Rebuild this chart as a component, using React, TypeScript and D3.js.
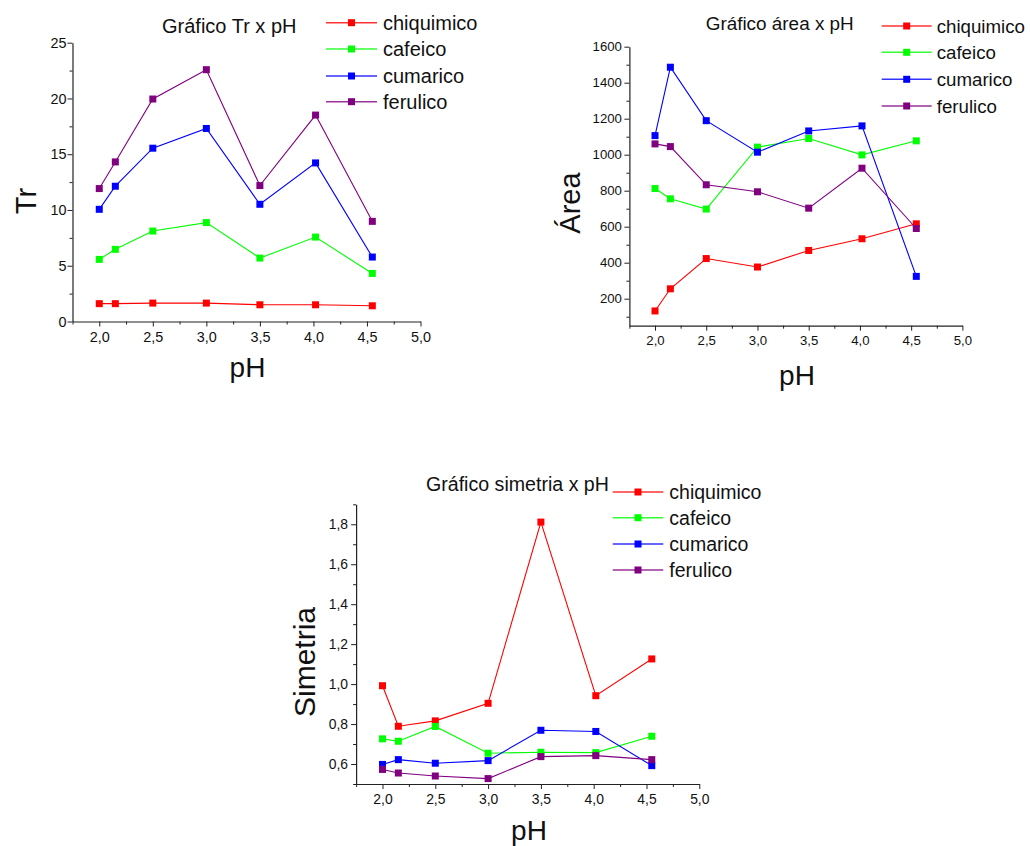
import React, { useEffect, useRef } from 'react';
import * as d3 from 'd3';

// ---------- DATA ----------
const phValues = [2.0, 2.15, 2.5, 3.0, 3.5, 4.02, 4.55];
const seriesNames = ['chiquimico', 'cafeico', 'cumarico', 'ferulico'];
const seriesColors = ['#ff0000', '#00ff00', '#0000ff', '#800080'];
const xMajorTicks = [2.0, 2.5, 3.0, 3.5, 4.0, 4.5, 5.0];

const trChiquimico = [1.6, 1.6, 1.65, 1.65, 1.5, 1.5, 1.41];
const trCafeico = [5.57, 6.47, 8.11, 8.87, 5.69, 7.57, 4.31];
const trCumarico = [10.06, 12.13, 15.54, 17.31, 10.51, 14.22, 5.78];
const trFerulico = [11.92, 14.31, 19.95, 22.58, 12.19, 18.51, 8.98];
const trTicks = [0, 5, 10, 15, 20, 25];

const areaChiquimico = [132, 255, 423, 376, 468, 533, 616];
const areaCafeico = [812, 755, 698, 1042, 1090, 999, 1077];
const areaCumarico = [1106, 1486, 1189, 1014, 1132, 1160, 324];
const areaFerulico = [1060, 1045, 833, 794, 703, 925, 590];
const areaTicks = [200, 400, 600, 800, 1000, 1200, 1400, 1600];

const simChiquimico = [0.992, 0.789, 0.816, 0.904, 1.811, 0.942, 1.126];
const simCafeico = [0.726, 0.714, 0.788, 0.654, 0.659, 0.657, 0.739];
const simCumarico = [0.598, 0.622, 0.604, 0.617, 0.769, 0.763, 0.592];
const simFerulico = [0.573, 0.555, 0.54, 0.527, 0.637, 0.642, 0.622];
const simTicks = [0.6, 0.8, 1.0, 1.2, 1.4, 1.6, 1.8];

// ---------- LAYOUT ----------
const FONT = "'Liberation Sans', Arial, Helvetica, sans-serif";

const commaFmt = (d: number) => d3.format('.1f')(d).replace('.', ',');

const panels = [
  {
    title: 'Gráfico Tr x pH', yLabel: 'Tr',
    series: [trChiquimico, trCafeico, trCumarico, trFerulico],
    yDomain: [0, 25], yTicks: trTicks, yMinorStep: 2.5, yFmt: (d: number) => String(d),
    xRange: [72.5, 420.5], yRange: [321.5, 42.7],
    tickFont: 14.4, xPad: 5.5, yPad: 1,
    title_x: 162, title_y: 32.7, titleFont: 20,
    legX1: 326, legX2: 377, legTextX: 383, legY: [22.7, 49, 76, 101.7], legFont: 20,
    yLab: [35.5, 201], xLab: [247.5, 377], yLabFont: 29,
  },
  {
    title: 'Gráfico área x pH', yLabel: 'Área',
    series: [areaChiquimico, areaCafeico, areaCumarico, areaFerulico],
    yDomain: [50, 1600], yTicks: areaTicks, yMinorStep: 100, yFmt: (d: number) => String(d),
    xRange: [629.4, 962.4], yRange: [325.7, 46.7],
    tickFont: 13.2, xPad: 4.8, yPad: 2.5,
    title_x: 705.7, title_y: 30, titleFont: 18.9,
    legX1: 881.7, legX2: 931.7, legTextX: 936.7, legY: [26, 52.3, 79.3, 106], legFont: 18.7,
    yLab: [580, 203], xLab: [797, 385], yLabFont: 29,
  },
  {
    title: 'Gráfico simetria x pH', yLabel: 'Simetria',
    series: [simChiquimico, simCafeico, simCumarico, simFerulico],
    yDomain: [0.5, 1.9], yTicks: simTicks, yMinorStep: 0.1, yFmt: commaFmt,
    xRange: [356.1, 699.3], yRange: [784, 504.3],
    tickFont: 13.9, xPad: 4.8, yPad: 3,
    title_x: 426, title_y: 490.7, titleFont: 19.6,
    legX1: 612.7, legX2: 663.3, legTextX: 669.3, legY: [492, 517.7, 544, 570], legFont: 19.5,
    yLab: [315, 662], xLab: [529, 840], yLabFont: 30,
  },
];

function range(a: number, b: number, step: number) {
  const out: number[] = [];
  const n = Math.round((b - a) / step);
  for (let i = 0; i <= n; i++) out.push(+(a + i * step).toFixed(6));
  return out;
}

export default function App() {
  const ref = useRef<SVGSVGElement>(null);

  useEffect(() => {
    const svg = d3.select(ref.current);
    svg.selectAll('*').remove();

    panels.forEach((p) => {
      const g = svg.append('g');
      const x = d3.scaleLinear().domain([1.75, 5]).range(p.xRange);
      const y = d3.scaleLinear().domain(p.yDomain).range(p.yRange);

      // minor ticks
      const xMinor = range(1.75, 4.75, 0.5);
      const yMinorAll = range(p.yDomain[0], p.yDomain[1], p.yMinorStep / 1).filter(
        (v) => !p.yTicks.some((t) => Math.abs(t - v) < 1e-6)
      );
      const yMinor = range(
        Math.ceil(p.yDomain[0] / p.yMinorStep) * p.yMinorStep,
        p.yDomain[1],
        p.yMinorStep
      ).filter((v) => !p.yTicks.some((t) => Math.abs(t - v) < 1e-6) && v >= p.yDomain[0]);
      void yMinorAll;

      const xAxisMinor = g.append('g')
        .attr('transform', `translate(0,${p.yRange[0]})`)
        .call(d3.axisBottom(x).tickValues(xMinor).tickSize(3).tickSizeOuter(0).tickFormat(() => ''));
      xAxisMinor.select('.domain').remove();
      const yAxisMinor = g.append('g')
        .attr('transform', `translate(${p.xRange[0]},0)`)
        .call(d3.axisLeft(y).tickValues(yMinor).tickSize(3).tickSizeOuter(0).tickFormat(() => ''));
      yAxisMinor.select('.domain').remove();

      const xAxis = g.append('g')
        .attr('transform', `translate(0,${p.yRange[0]})`)
        .call(d3.axisBottom(x).tickValues(xMajorTicks).tickSize(5).tickSizeOuter(0)
          .tickPadding(p.xPad).tickFormat((d: any) => commaFmt(d)));
      const yAxis = g.append('g')
        .attr('transform', `translate(${p.xRange[0]},0)`)
        .call(d3.axisLeft(y).tickValues(p.yTicks).tickSize(5).tickSizeOuter(0)
          .tickPadding(p.yPad).tickFormat((d: any) => p.yFmt(d)));

      [xAxis, yAxis, xAxisMinor, yAxisMinor].forEach((a) => {
        a.selectAll('text').attr('font-family', FONT).attr('font-size', p.tickFont).attr('fill', '#111');
        a.selectAll('line').attr('stroke', '#222').attr('stroke-width', 1);
        a.selectAll('.domain').attr('stroke', '#222').attr('stroke-width', 1.2);
      });

      // series lines and markers
      const line = d3.line<number>().x((_, i) => x(phValues[i])).y((d) => y(d));
      p.series.forEach((vals, si) => {
        g.append('path')
          .attr('d', line(vals) as string)
          .attr('fill', 'none')
          .attr('stroke', seriesColors[si])
          .attr('stroke-width', 1.1);
        g.selectAll(null)
          .data(vals)
          .enter()
          .append('rect')
          .attr('x', (_, i) => x(phValues[i]) - 3.5)
          .attr('y', (d) => y(d) - 3.5)
          .attr('width', 7)
          .attr('height', 7)
          .attr('fill', seriesColors[si]);
      });

      // title
      g.append('text')
        .attr('x', p.title_x).attr('y', p.title_y)
        .attr('font-family', FONT).attr('font-size', p.titleFont)
        .attr('fill', '#111')
        .text(p.title);

      // legend
      seriesNames.forEach((name, si) => {
        const ly = p.legY[si];
        g.append('line')
          .attr('x1', p.legX1).attr('x2', p.legX2)
          .attr('y1', ly).attr('y2', ly)
          .attr('stroke', seriesColors[si]).attr('stroke-width', 1.6).attr('stroke-opacity', 0.8);
        g.append('rect')
          .attr('x', (p.legX1 + p.legX2) / 2 - 3.5).attr('y', ly - 3.5)
          .attr('width', 7).attr('height', 7)
          .attr('fill', seriesColors[si]);
        g.append('text')
          .attr('x', p.legTextX).attr('y', ly + 7)
          .attr('font-family', FONT).attr('font-size', p.legFont)
          .attr('fill', '#111')
          .text(name);
      });

      // axis labels
      g.append('text')
        .attr('transform', `translate(${p.yLab[0]},${p.yLab[1]}) rotate(-90)`)
        .attr('text-anchor', 'middle')
        .attr('font-family', FONT).attr('font-size', p.yLabFont)
        .attr('fill', '#111')
        .text(p.yLabel);
      g.append('text')
        .attr('x', p.xLab[0]).attr('y', p.xLab[1])
        .attr('text-anchor', 'middle')
        .attr('font-family', FONT).attr('font-size', 28)
        .attr('fill', '#111')
        .text('pH');
    });
  }, []);

  return (
    <svg
      ref={ref}
      width={1030}
      height={846}
      style={{ position: 'absolute', left: 0, top: 0, background: '#fff' }}
    />
  );
}
